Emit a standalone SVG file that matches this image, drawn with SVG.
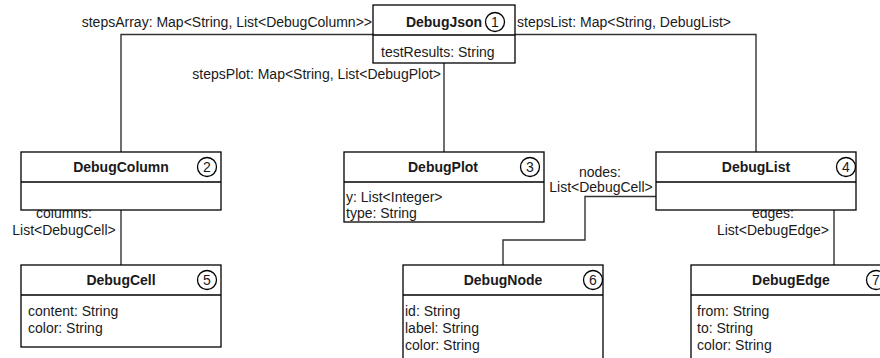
<svg xmlns="http://www.w3.org/2000/svg" width="880" height="358" viewBox="0 0 880 358">
  <style>
    text { font-family: "Liberation Sans", Arial, sans-serif; font-size: 14px; fill: #1a1a1a; }
    .title { font-weight: bold; text-anchor: middle; }
    .num { text-anchor: middle; }
    .mid { text-anchor: middle; }
    .end { text-anchor: end; }
    .box { fill: #ffffff; stroke: #000000; stroke-width: 1.3; }
    .div { stroke: #000000; stroke-width: 1.3; }
    .badge { fill: #ffffff; stroke: #000000; stroke-width: 1.3; }
    .link { fill: none; stroke: #333333; stroke-width: 1.4; }
  </style>

  <!-- associations and their role labels -->
  <g id="connectors">
    <polyline class="link" points="373,34.5 121,34.5 121,152"/>
    <polyline class="link" points="515,34.5 756,34.5 756,152"/>
    <line class="link" x1="444" y1="63" x2="444" y2="152"/>
    <line class="link" x1="121" y1="210" x2="121" y2="265"/>
    <polyline class="link" points="656,196.5 585,196.5 585,240 503,240 503,265"/>
    <line class="link" x1="834" y1="210" x2="834" y2="265"/>

    <text class="end" x="372" y="27">stepsArray: Map&lt;String, List&lt;DebugColumn&gt;&gt;</text>
    <text x="517" y="27">stepsList: Map&lt;String, DebugList&gt;</text>
    <text class="end" x="441" y="79">stepsPlot: Map&lt;String, List&lt;DebugPlot&gt;</text>
    <text class="mid" x="64" y="218">columns:</text>
    <text class="mid" x="64" y="235">List&lt;DebugCell&gt;</text>
    <text class="mid" x="600" y="177">nodes:</text>
    <text class="mid" x="601" y="192">List&lt;DebugCell&gt;</text>
    <text class="mid" x="773" y="218">edges:</text>
    <text class="mid" x="773" y="235">List&lt;DebugEdge&gt;</text>
  </g>

  <g id="DebugJson">
    <rect class="box" x="373" y="5" width="142" height="58"/>
    <line class="div" x1="373" y1="35" x2="515" y2="35"/>
    <text class="title" x="444" y="27">DebugJson</text>
    <circle class="badge" cx="495" cy="22" r="9.5"/>
    <text class="num" x="495" y="27">1</text>
    <text x="381" y="57">testResults: String</text>
  </g>

  <g id="DebugColumn">
    <rect class="box" x="21" y="152" width="200" height="58"/>
    <line class="div" x1="21" y1="182" x2="221" y2="182"/>
    <text class="title" x="121" y="172">DebugColumn</text>
    <circle class="badge" cx="207" cy="167" r="9.5"/>
    <text class="num" x="207" y="172">2</text>
  </g>

  <g id="DebugPlot">
    <rect class="box" x="344" y="152" width="200" height="70"/>
    <line class="div" x1="344" y1="182" x2="544" y2="182"/>
    <text class="title" x="443" y="172">DebugPlot</text>
    <circle class="badge" cx="530" cy="167" r="9.5"/>
    <text class="num" x="530" y="172">3</text>
    <text x="346" y="202">y: List&lt;Integer&gt;</text>
    <text x="346" y="218">type: String</text>
  </g>

  <g id="DebugList">
    <rect class="box" x="656" y="152" width="200" height="58"/>
    <line class="div" x1="656" y1="182" x2="856" y2="182"/>
    <text class="title" x="756" y="172">DebugList</text>
    <circle class="badge" cx="846" cy="167" r="9.5"/>
    <text class="num" x="846" y="172">4</text>
  </g>

  <g id="DebugCell">
    <rect class="box" x="21" y="265" width="200" height="82"/>
    <line class="div" x1="21" y1="295" x2="221" y2="295"/>
    <text class="title" x="121" y="285">DebugCell</text>
    <circle class="badge" cx="207" cy="280" r="9.5"/>
    <text class="num" x="207" y="285">5</text>
    <text x="28" y="316">content: String</text>
    <text x="28" y="333">color: String</text>
  </g>

  <g id="DebugNode">
    <rect class="box" x="403" y="265" width="200" height="110"/>
    <line class="div" x1="403" y1="295" x2="603" y2="295"/>
    <text class="title" x="503" y="285">DebugNode</text>
    <circle class="badge" cx="593" cy="280" r="9.5"/>
    <text class="num" x="593" y="285">6</text>
    <text x="405" y="316">id: String</text>
    <text x="405" y="333">label: String</text>
    <text x="405" y="350">color: String</text>
  </g>

  <g id="DebugEdge">
    <rect class="box" x="691" y="265" width="200" height="110"/>
    <line class="div" x1="691" y1="295" x2="891" y2="295"/>
    <text class="title" x="791" y="285">DebugEdge</text>
    <circle class="badge" cx="876" cy="280" r="9.5"/>
    <text class="num" x="876" y="285">7</text>
    <text x="697" y="316">from: String</text>
    <text x="697" y="333">to: String</text>
    <text x="697" y="350">color: String</text>
  </g>
</svg>
